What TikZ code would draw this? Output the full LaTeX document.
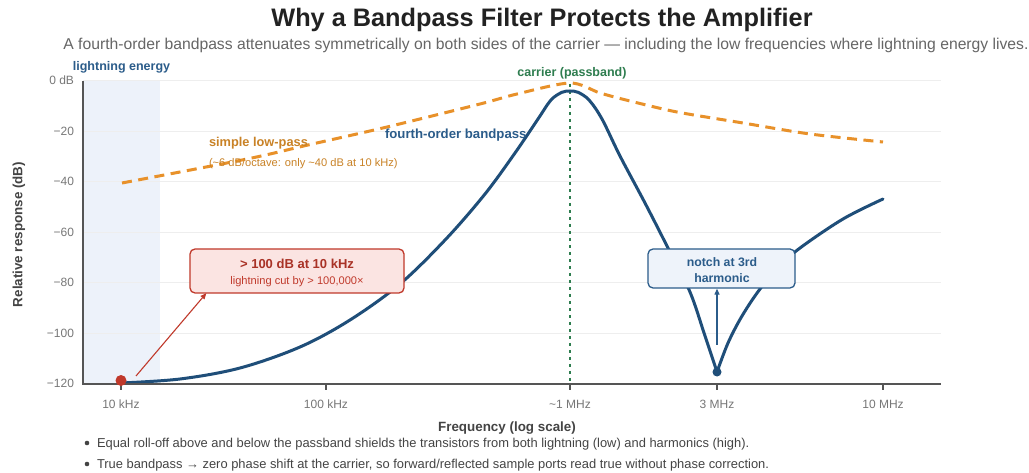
\documentclass[tikz,border=0pt]{standalone}
\usepackage{fontspec}
\setmainfont{Liberation Sans}
\usetikzlibrary{arrows.meta,calc}
\definecolor{bpblue}{HTML}{1F4E79}
\definecolor{lblue}{HTML}{2B5C8A}
\definecolor{orng}{HTML}{E8912A}
\definecolor{orngtxt}{HTML}{C98226}
\definecolor{grn}{HTML}{2E7D4F}
\definecolor{redc}{HTML}{C0392B}
\definecolor{redtxt}{HTML}{A93226}
\definecolor{shadec}{HTML}{EDF2FA}
\definecolor{gridc}{HTML}{EEEEEE}
\definecolor{axisc}{HTML}{555555}
\definecolor{tickc}{HTML}{777777}
\definecolor{c222}{HTML}{222222}
\definecolor{c444}{HTML}{444444}
\definecolor{c666}{HTML}{666666}
\definecolor{pinkf}{HTML}{FBE4E2}
\definecolor{bluef}{HTML}{EEF3FA}
\tikzset{
  txt/.style={inner sep=0pt, outer sep=0pt, anchor=base},
  ylab/.style={txt, anchor=base east, text=tickc, font=\fontsize{12}{14}\selectfont},
  xlab/.style={txt, text=tickc, font=\fontsize{12}{14}\selectfont},
  gridline/.style={draw=gridc, line width=1pt},
  axisline/.style={draw=axisc, line width=1.8pt},
  tickline/.style={draw=axisc, line width=1.2pt},
  bpcurve/.style={draw=bpblue, line width=3pt, line join=round, line cap=round},
  lpcurve/.style={draw=orng, line width=3pt, dash pattern=on 10pt off 6.5pt},
  bullettxt/.style={txt, anchor=base west, text=c444, font=\fontsize{12.9}{15}\selectfont},
  calloutred/.style={draw=redc, line width=1.3pt, fill=pinkf, rounded corners=5pt, minimum width=214pt, minimum height=44pt, inner sep=0pt},
  calloutblue/.style={draw=lblue, line width=1.3pt, fill=bluef, rounded corners=5pt, minimum width=147pt, minimum height=39pt, inner sep=0pt},
}
\begin{document}
\begin{tikzpicture}[x=1pt,y=-1pt]
\useasboundingbox (0,0) rectangle (1029,473);
\fill[white] (0,0) rectangle (1029,473);

% title and subtitle
\node[txt, text=c222, font=\bfseries\fontsize{25.3}{30}\selectfont] (title) at (542,27) {Why a Bandpass Filter Protects the Amplifier};
\node[txt, text=c666, font=\fontsize{15.7}{18}\selectfont] (subtitle) at (546,50) {A fourth-order bandpass attenuates symmetrically on both sides of the carrier — including the low frequencies where lightning energy lives.};

% shaded lightning region
\fill[shadec] (83,81) rectangle (160,384);
\node[txt, text=lblue, font=\bfseries\fontsize{12.5}{15}\selectfont] (lightlbl) at (121.5,71) {lightning energy};

% grid lines
\foreach \yy in {81,131.5,182,232.5,283,333.5}{
  \draw[gridline] (83,\yy) -- (941,\yy);
}

% y tick labels
\node[ylab] (y0) at (74,85) {0 dB};
\node[ylab] (y20) at (74,135.5) {−20};
\node[ylab] (y40) at (74,186) {−40};
\node[ylab] (y60) at (74,236.5) {−60};
\node[ylab] (y80) at (74,287) {−80};
\node[ylab] (y100) at (74,337.5) {−100};
\node[ylab] (y120) at (74,388) {−120};

% carrier line
\draw[grn, line width=1.3pt, dash pattern=on 3pt off 4pt] (570,84) -- (570,384);
\node[txt, text=grn, font=\bfseries\fontsize{12.5}{15}\selectfont] (carrierlbl) at (572,77) {carrier (passband)};

% simple low-pass (dashed)
\draw[lpcurve] plot[smooth, tension=0.5] coordinates {(122,183) (247,159) (308,145) (387,127) (480,104) (517,94) (570,83) (600,93) (630,101) (677,112) (743,123) (810,134) (883,142)};

% fourth-order bandpass
\draw[bpcurve] plot[smooth, tension=0.55] coordinates {(121,383) (180,379) (240,368) (300,347) (350,320) (400,284) (446,239) (485,194) (515,153) (538,119) (551,100) (562,92.3) (570,91) (578,92.3) (589,100) (602,119) (620,156) (645,203) (668,248) (690,292) (705,336) (717,372)};
\draw[bpcurve] plot[smooth, tension=0.55] coordinates {(717,372) (728,343) (742,316) (760,289) (780,266) (800,248) (843,219) (883,199)};

% axes
\draw[axisline] (83,81) -- (83,384);
\draw[axisline] (82.1,384) -- (941,384);
\foreach \xx in {121,326,570,717,883}{
  \draw[tickline] (\xx,384) -- (\xx,390);
}
\node[xlab] (x1) at (121,408) {10 kHz};
\node[xlab] (x2) at (326,408) {100 kHz};
\node[xlab] (x3) at (570,408) {\textasciitilde1 MHz};
\node[xlab] (x4) at (717,408) {3 MHz};
\node[xlab] (x5) at (883,408) {10 MHz};

% axis titles
\node[txt, text=c444, font=\bfseries\fontsize{13.4}{16}\selectfont] (xtitle) at (507,431) {Frequency (log scale)};
\node[txt, text=c444, font=\bfseries\fontsize{13.4}{16}\selectfont, rotate=90] (ytitle) at (22.5,234.5) {Relative response (dB)};

% curve labels
\node[txt, anchor=base west, text=orngtxt, font=\bfseries\fontsize{12.8}{15}\selectfont] (lplbl) at (209,147) {simple low-pass};
\node[txt, anchor=base west, text=orngtxt, font=\fontsize{11.1}{13}\selectfont] (lpsub) at (209,167) {(\textasciitilde6 dB/octave: only \textasciitilde40 dB at 10 kHz)};
\node[txt, anchor=base west, text=lblue, font=\bfseries\fontsize{13.2}{15}\selectfont] (bplbl) at (385,139) {fourth-order bandpass};

% red callout
\node[calloutred] (redbox) at (297,271) {};
\node[txt, text=redtxt, font=\bfseries\fontsize{13}{15}\selectfont] (redtitle) at (297,269) {> 100 dB at 10 kHz};
\node[txt, text=redc, font=\fontsize{11.1}{13}\selectfont] (redsub) at (297,284.5) {lightning cut by > 100,000×};
\node[circle, fill=redc, minimum size=11pt, inner sep=0pt] (reddot) at (121,380.5) {};
\coordinate (redstart) at (136,376);
\draw[redc, line width=1.1pt, -{Triangle[length=6pt,width=5pt]}] (redstart) -- ($(redbox.south west)+(17,-0.5)$);

% notch callout
\node[calloutblue] (notchbox) at (721.5,268.5) {};
\node[txt, text=lblue, font=\bfseries\fontsize{12.3}{15}\selectfont] (notch1) at (722,267) {notch at 3rd};
\node[txt, text=lblue, font=\bfseries\fontsize{12.3}{15}\selectfont] (notch2) at (722,282.5) {harmonic};
\node[circle, fill=bpblue, minimum size=9pt, inner sep=0pt] (notchdot) at (717,372) {};
\coordinate (notchstart) at (717,345);
\draw[lblue, line width=1.2pt, -{Triangle[length=6pt,width=5pt]}] (notchstart) -- (notchstart |- notchbox.south);

% bullets
\node[circle, fill=c444, minimum size=4.6pt, inner sep=0pt] (b1) at (87,443) {};
\node[bullettxt] (t1) at (97,447.5) {Equal roll-off above and below the passband shields the transistors from both lightning (low) and harmonics (high).};
\node[circle, fill=c444, minimum size=4.6pt, inner sep=0pt] (b2) at (87,464) {};
\node[bullettxt] (t2) at (97,468) {True bandpass → zero phase shift at the carrier, so forward/reflected sample ports read true without phase correction.};
\end{tikzpicture}
\end{document}
